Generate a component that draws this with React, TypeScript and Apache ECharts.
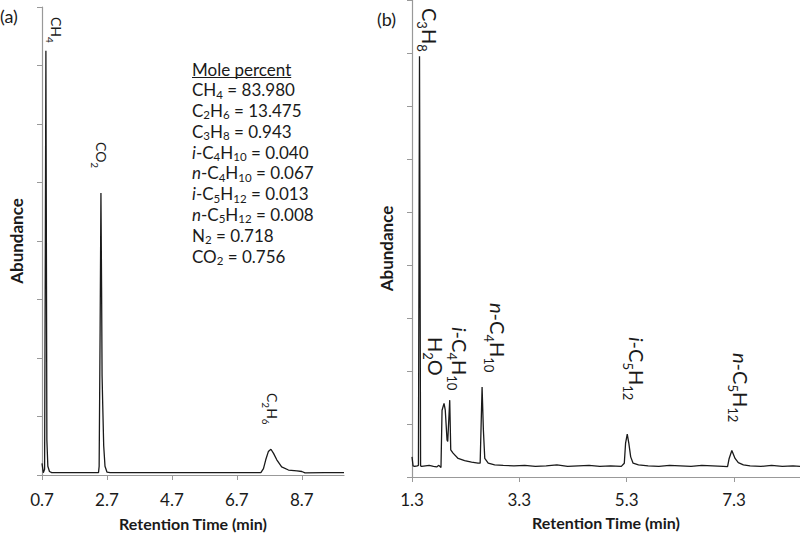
import React, { useEffect, useRef } from 'react';
import * as echarts from 'echarts';

// ---------- data ----------
// (a) natural gas chromatogram: [retention time (min), abundance]
const chromatogramA: [number, number][] = [
  [0.70, 0.20], [0.74, 0.04], [0.78, 0.10], [0.80, 3.50], [0.82, 7.25], [0.835, 4.00],
  [0.85, 0.60], [0.88, 0.15], [0.93, 0.06], [1.00, 0.04], [1.50, 0.04], [2.00, 0.04],
  [2.44, 0.04], [2.46, 0.15], [2.49, 2.50], [2.515, 4.82], [2.535, 3.20], [2.55, 1.70],
  [2.57, 1.20], [2.60, 0.50], [2.64, 0.15], [2.70, 0.05], [2.80, 0.04], [3.50, 0.04],
  [4.50, 0.04], [5.50, 0.04], [6.50, 0.04], [7.30, 0.04], [7.44, 0.04], [7.52, 0.11],
  [7.59, 0.26], [7.67, 0.40], [7.75, 0.44], [7.83, 0.37], [7.93, 0.26], [8.08, 0.14],
  [8.29, 0.085], [8.55, 0.07], [8.70, 0.06], [8.80, 0.035], [9.40, 0.04], [10.0, 0.04],
];

// (b) heavier hydrocarbons chromatogram
const chromatogramB: [number, number][] = [
  [1.30, 0.38], [1.32, 0.21], [1.35, 0.20], [1.40, 0.21], [1.42, 0.22], [1.44, 7.94],
  [1.46, 0.21], [1.48, 0.20], [1.55, 0.21], [1.62, 0.22], [1.70, 0.20], [1.76, 0.19],
  [1.80, 0.22], [1.84, 0.18], [1.86, 1.26], [1.897, 1.39], [1.92, 1.26], [1.953, 0.70],
  [1.966, 0.67], [2.003, 1.45], [2.022, 0.51], [2.065, 0.45], [2.16, 0.35], [2.28, 0.31],
  [2.41, 0.28], [2.53, 0.26], [2.57, 0.26], [2.606, 1.70], [2.63, 0.89], [2.656, 0.35],
  [2.72, 0.26], [2.84, 0.23], [3.00, 0.22], [3.20, 0.21], [3.40, 0.22], [3.60, 0.20],
  [3.80, 0.21], [4.00, 0.23], [4.20, 0.20], [4.40, 0.21], [4.60, 0.22], [4.80, 0.20],
  [5.00, 0.21], [5.20, 0.20], [5.256, 0.26], [5.28, 0.64], [5.311, 0.81], [5.34, 0.64],
  [5.375, 0.38], [5.42, 0.26], [5.52, 0.23], [5.70, 0.21], [5.90, 0.20], [6.10, 0.22],
  [6.30, 0.21], [6.50, 0.20], [6.70, 0.22], [6.90, 0.21], [7.10, 0.20], [7.18, 0.195],
  [7.21, 0.35], [7.26, 0.50], [7.32, 0.35], [7.38, 0.27], [7.475, 0.23], [7.60, 0.21],
  [7.80, 0.20], [8.00, 0.22], [8.20, 0.20], [8.40, 0.21], [8.53, 0.20],
];

const xTicksA = [0.7, 2.7, 4.7, 6.7, 8.7];
const xTicksB = [1.3, 3.3, 5.3, 7.3];
const xRangeA = [0.7, 10];
const xRangeB = [1.3, 8.53];
const yMaxA = 8;
const yMaxB = 9;

const moleTitle = 'Mole percent';
const moleCompounds = ['CH4', 'C2H6', 'C3H8', 'i-C4H10', 'n-C4H10', 'i-C5H12', 'n-C5H12', 'N2', 'CO2'];
const moleValues = ['83.980', '13.475', '0.943', '0.040', '0.067', '0.013', '0.008', '0.718', '0.756'];

const peakLabelsA = ['CH4', 'CO2', 'C2H6'];
const peakLabelsB = ['C3H8', 'H2O', 'i-C4H10', 'n-C4H10', 'i-C5H12', 'n-C5H12'];

// ---------- layout ----------
const FONT = 'Lato';
const INK = '#1a1a1a';
const AXIS = '#999999';
const BLOCK_FONT = 17;
const peakLabelPosA = [[56, 17], [101, 142], [272, 393]];
const peakLabelPosB = [[430, 8], [436, 337], [460, 327], [497.5, 303], [636.5, 337], [741, 353]];

function richFormula(f: string, tail = ''): string {
  let out = '';
  let rest = f;
  const m = /^([in])-/.exec(f);
  if (m) {
    out += `{it|${m[1]}}{m|-}`;
    rest = f.slice(2);
  }
  const parts = rest.match(/[A-Za-z]+|\d+/g) || [];
  for (const p of parts) out += /\d/.test(p) ? `{s|${p}}` : `{m|${p}}`;
  if (tail) out += `{m|${tail}}`;
  return out;
}

function richStyles(main: number, sub: number, lh: number, subLh: number) {
  return {
    m: { fontFamily: FONT, fontSize: main, lineHeight: lh, verticalAlign: 'middle', fill: INK, color: INK },
    it: { fontFamily: FONT, fontSize: main, lineHeight: lh, verticalAlign: 'middle', fontStyle: 'italic', fill: INK, color: INK },
    s: { fontFamily: FONT, fontSize: sub, lineHeight: subLh, verticalAlign: 'bottom', fill: INK, color: INK },
  };
}

function measure(text: string, size: number): number {
  const ctx = document.createElement('canvas').getContext('2d');
  if (!ctx) return 93;
  ctx.font = `${size}px ${FONT}`;
  return ctx.measureText(text).width;
}

function xAxisCfg(grid: number, range: number[], ticks: number[], margin: number, nameGap: number) {
  return {
    gridIndex: grid,
    type: 'value',
    min: range[0],
    max: range[1],
    axisLine: { show: true, lineStyle: { color: AXIS, width: 1.2 } },
    axisTick: { show: true, customValues: ticks, length: 5, lineStyle: { color: AXIS, width: 1 } },
    axisLabel: {
      customValues: ticks,
      formatter: (v: number) => v.toFixed(1),
      fontFamily: FONT,
      fontSize: 17,
      color: INK,
      margin,
    },
    splitLine: { show: false },
    name: 'Retention Time (min)',
    nameLocation: 'middle',
    nameGap,
    nameTextStyle: { fontFamily: FONT, fontWeight: 'bold', fontSize: 16, lineHeight: 16, color: INK },
  };
}

function yAxisCfg(grid: number, max: number, nameGap: number, pad: number[]) {
  return {
    gridIndex: grid,
    type: 'value',
    min: 0,
    max,
    interval: 1,
    axisLine: { show: true, lineStyle: { color: AXIS, width: 1.2 } },
    axisTick: { show: true, length: 5, inside: false, lineStyle: { color: AXIS, width: 1 } },
    axisLabel: { show: false },
    splitLine: { show: false },
    name: 'Abundance',
    nameLocation: 'middle',
    nameGap,
    nameTextStyle: { fontFamily: FONT, fontWeight: 'bold', fontSize: 17, color: INK, padding: pad },
  };
}

export default function App() {
  const ref = useRef<HTMLDivElement>(null);

  useEffect(() => {
    document.body.style.margin = '0';
    if (!ref.current) return;
    const chart = echarts.init(ref.current, undefined, { renderer: 'svg' });

    const graphics: any[] = [];
    graphics.push({ type: 'text', x: 0, y: 7, style: { text: '(a)', fontFamily: FONT, fontSize: 18, fill: INK } });
    graphics.push({ type: 'text', x: 377, y: 10, style: { text: '(b)', fontFamily: FONT, fontSize: 18, fill: INK } });

    peakLabelsA.forEach((f, i) => {
      graphics.push({
        type: 'text',
        x: peakLabelPosA[i][0],
        y: peakLabelPosA[i][1],
        rotation: -Math.PI / 2,
        style: {
          text: richFormula(f),
          rich: richStyles(14, 10, 22, 9),
          align: 'left',
          verticalAlign: 'middle',
          fill: INK,
        },
      });
    });
    peakLabelsB.forEach((f, i) => {
      graphics.push({
        type: 'text',
        x: peakLabelPosB[i][0],
        y: peakLabelPosB[i][1],
        rotation: -Math.PI / 2,
        style: {
          text: richFormula(f),
          rich: richStyles(20, 13, 30, 10),
          align: 'left',
          verticalAlign: 'middle',
          fill: INK,
        },
      });
    });

    const moleLines = [`{m|${moleTitle}}`].concat(
      moleCompounds.map((c, i) => richFormula(c, ` = ${moleValues[i]}`))
    );
    graphics.push({
      type: 'text',
      x: 192,
      y: 58.6,
      style: {
        text: moleLines.join('\n'),
        rich: richStyles(BLOCK_FONT, 11.5, 20.8, 9),
        align: 'left',
        verticalAlign: 'top',
        fill: INK,
      },
    });
    const ulw = measure(moleTitle, BLOCK_FONT);
    graphics.push({
      type: 'line',
      shape: { x1: 192, y1: 77.5, x2: 192 + ulw, y2: 77.5 },
      style: { stroke: INK, lineWidth: 1 },
    });

    chart.setOption({
      animation: false,
      textStyle: { fontFamily: FONT },
      grid: [
        { left: 42, top: 7, width: 302, height: 468, outerBoundsMode: 'none', containLabel: false },
        { left: 412, top: 0, width: 388, height: 477, outerBoundsMode: 'none', containLabel: false },
      ],
      xAxis: [
        xAxisCfg(0, xRangeA, xTicksA, 16, 40),
        xAxisCfg(1, xRangeB, xTicksB, 14, 37),
      ],
      yAxis: [
        yAxisCfg(0, yMaxA, 17, [0, 0, 0, 0]),
        yAxisCfg(1, yMaxB, 17, [0, 20, 0, 0]),
      ],
      series: [
        {
          type: 'line',
          xAxisIndex: 0,
          yAxisIndex: 0,
          data: chromatogramA,
          showSymbol: false,
          symbol: 'none',
          silent: true,
          lineStyle: { color: INK, width: 1.3 },
        },
        {
          type: 'line',
          xAxisIndex: 1,
          yAxisIndex: 1,
          data: chromatogramB,
          showSymbol: false,
          symbol: 'none',
          silent: true,
          lineStyle: { color: INK, width: 1.3 },
        },
      ],
      graphic: graphics,
    });

    return () => chart.dispose();
  }, []);

  return <div ref={ref} style={{ width: 800, height: 533 }} />;
}
